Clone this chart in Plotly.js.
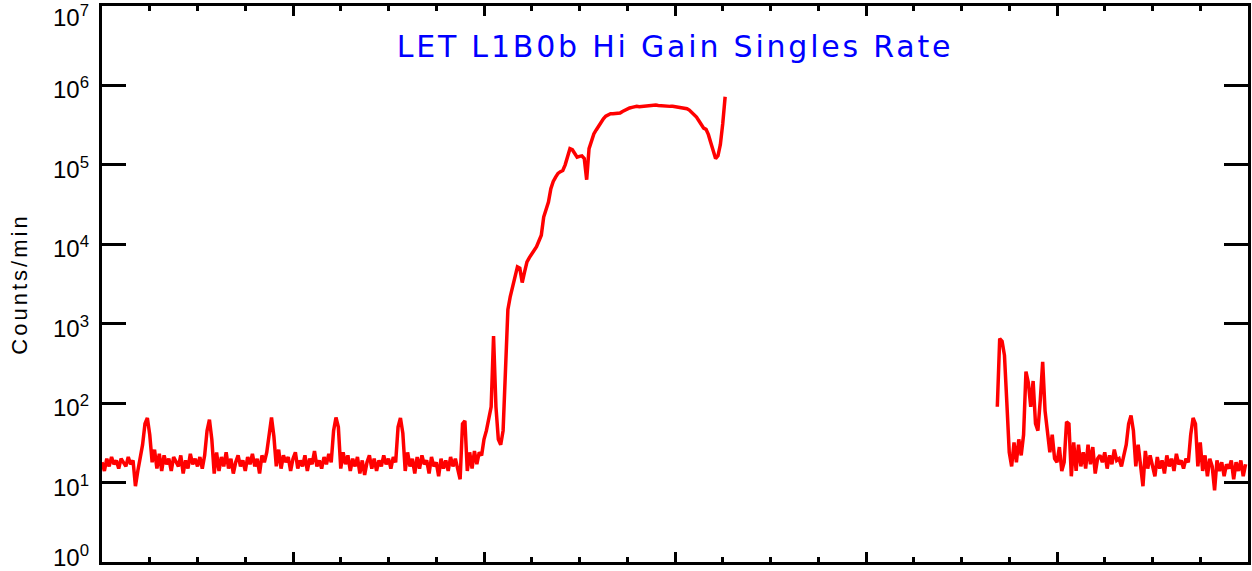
<!DOCTYPE html>
<html>
<head>
<meta charset="utf-8">
<script src="https://cdn.plot.ly/plotly-3.0.1.min.js"></script>
<style>html,body{margin:0;padding:0;background:#fff;}#chart{width:1252px;height:571px;}
.gtitle{letter-spacing:2.8px;}
.ytitle{letter-spacing:3px;}</style>
</head>
<body>
<div id="chart"></div>
<script>
// Time axis (hours), sampled every 0.05 h
const sampleStep = 0.05;
const seg1Start = 0.0;
const seg2Start = 18.75;

// Counts/min, first data segment
const rateSeg1 = [
 18,14,20,16,21,17,19,15,20,18,16,21,17,19,9,14,20,30,55,65,
 40,18,26,15,23,14,22,17,20,14,21,18,16,22,13,19,15,23,17,20,
 16,21,15,22,45,62,35,13,24,14,21,16,24,15,20,13,18,22,16,19,
 14,21,17,23,16,20,13,22,18,24,40,66,38,16,26,15,22,18,21,14,
 20,24,15,19,16,22,14,20,17,25,16,19,15,21,17,23,18,45,66,50,
 15,24,17,22,14,20,16,21,13,19,12.5,18,22,15,20,14,19,16,22,17,
 20,15,21,18,50,65,42,14,24,16,20,13,21,15,22,17,19,13,21,16,
 18,12,20,15,19,14,21,16,20,14,11,55,60,14,24,15,25,17,24,22,
 35,45,65,90,700,90,35,30,45,350,1500,2200,2900,3800,5200,5000,3300,4500,6000,6800,
 7500,8500,9300,11000,13000,22000,28000,34000,50000,62000,70000,78000,82000,85000,100000,125000,160000,155000,140000,125000,
 128000,130000,120000,65000,160000,200000,245000,275000,310000,350000,380000,410000,430000,440000,440000,445000,445000,450000,470000,490000,
 510000,520000,530000,540000,545000,540000,545000,550000,555000,555000,560000,560000,565000,560000,555000,555000,550000,550000,545000,545000,
 540000,540000,535000,530000,520000,510000,490000,460000,430000,400000,360000,320000,290000,280000,240000,190000,150000,120000,130000,180000,
 330000,720000
];

// Counts/min, second data segment
const rateSeg2 = [
 90,650,600,400,100,24,16,32,18,35,22,40,250,180,90,190,55,45,110,330,
 80,45,24,40,20,18,28,14,18,58,55,12,32,14,30,16,24,15,30,17,
 28,13,20,22,18,24,15,22,17,26,19,20,16,22,30,55,70,45,16,30,
 18,9,25,15,22,17,12,21,15,19,13,22,16,20,14,23,17,19,15,20,
 18,40,65,55,16,32,14,22,12,20,16,8,19,14,18,12,17,15,19,11,
 18,14,19,12,17
];

// Y ticks (log decades) and their labels
const yTickVals = [1,10,100,1000,10000,100000,1000000,10000000];
const yTickText = ['10<sup>0</sup>','10<sup>1</sup>','10<sup>2</sup>','10<sup>3</sup>','10<sup>4</sup>','10<sup>5</sup>','10<sup>6</sup>','10<sup>7</sup>'];

const xs = [], ys = [];
rateSeg1.forEach((v,i)=>{ xs.push(+(seg1Start + i*sampleStep).toFixed(4)); ys.push(v); });
xs.push(+(seg1Start + rateSeg1.length*sampleStep).toFixed(4)); ys.push(null);
rateSeg2.forEach((v,i)=>{ xs.push(+(seg2Start + i*sampleStep).toFixed(4)); ys.push(v); });

const trace = {
  x: xs, y: ys, type: 'scatter', mode: 'lines',
  line: {color: '#ff0000', width: 3.5},
  connectgaps: false, hoverinfo: 'skip'
};

// y tick labels drawn as annotations so the end labels (10^0, 10^7) are kept
const labelFont = {family: 'Liberation Sans, Arial, sans-serif', size: 24, color: '#000'};
const annotations = yTickVals.map((v, i) => ({
  x: -0.0095, xref: 'paper', xanchor: 'right',
  y: Math.log10(v), yref: 'y', yanchor: 'middle',
  yshift: i === yTickVals.length - 1 ? -10 : (i === 0 ? 6 : -3),
  text: yTickText[i], showarrow: false, font: labelFont
}));

const layout = {
  width: 1252, height: 571,
  margin: {l: 102, r: 4, t: 6, b: 9, pad: 0},
  paper_bgcolor: '#ffffff', plot_bgcolor: '#ffffff',
  showlegend: false,
  font: {family: 'Liberation Sans, Arial, sans-serif', color: '#000'},
  title: {
    text: 'LET L1B0b Hi Gain Singles Rate',
    font: {family: 'DejaVu Sans, sans-serif', size: 30, color: '#0000ff'},
    x: 0.5, xref: 'paper', xanchor: 'center',
    y: 1 - 46/571, yref: 'container', yanchor: 'middle'
  },
  annotations: annotations,
  xaxis: {
    range: [0, 24], showgrid: false, zeroline: false,
    showline: true, linecolor: '#000', linewidth: 3, mirror: 'ticks',
    ticks: 'inside', tickmode: 'linear', tick0: 0, dtick: 4,
    ticklen: 10, tickwidth: 3, tickcolor: '#000',
    minor: {ticks: 'inside', dtick: 1, ticklen: 5, tickwidth: 3, tickcolor: '#000', showgrid: false},
    showticklabels: false
  },
  yaxis: {
    type: 'log', range: [0, 7], showgrid: false, zeroline: false,
    showline: true, linecolor: '#000', linewidth: 3, mirror: 'ticks',
    ticks: 'inside', tickmode: 'array', tickvals: yTickVals,
    ticklen: 24, tickwidth: 3, tickcolor: '#000',
    showticklabels: false, automargin: false,
    title: {text: 'Counts/min', font: {family: 'Liberation Sans, Arial, sans-serif', size: 22, color: '#000'}, standoff: 66}
  }
};

Plotly.newPlot('chart', [trace], layout, {staticPlot: true, displayModeBar: false});
</script>
</body>
</html>
